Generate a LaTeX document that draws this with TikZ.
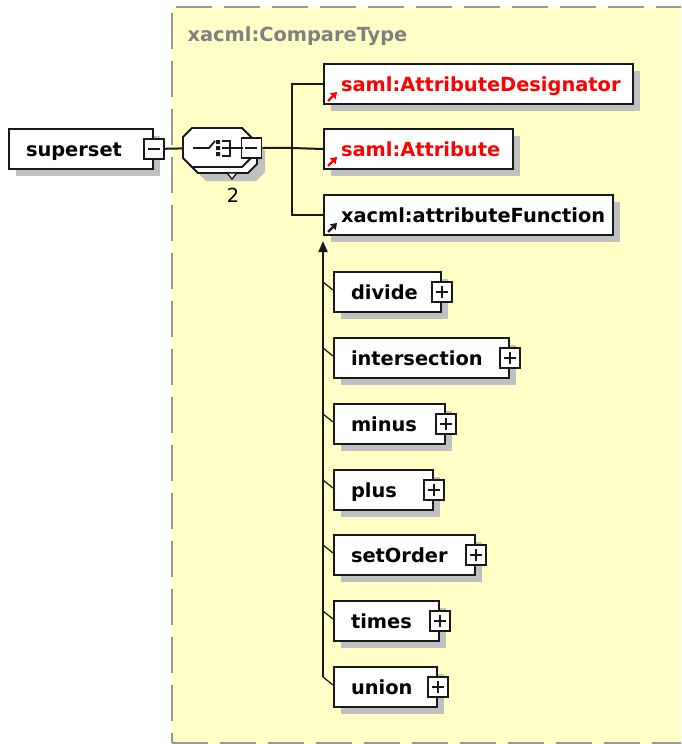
\documentclass[tikz,border=0pt]{standalone}
\usepackage{fontspec}
\setmainfont{DejaVu Sans}
\usetikzlibrary{arrows.meta}
\definecolor{schemaYellow}{RGB}{255,255,198}
\definecolor{borderGray}{RGB}{153,153,153}
\definecolor{shadowGray}{RGB}{192,192,192}
\definecolor{lineColor}{RGB}{25,25,25}
\definecolor{refRed}{RGB}{255,0,0}
\definecolor{typeGray}{RGB}{128,128,128}
\tikzstyle{schema} = [x = 1pt, y = -1pt, font=\bfseries\fontsize{19.4}{23}\selectfont]
\tikzstyle{elementStyle} = [draw=lineColor, fill=white, line width=2pt, minimum height=40pt, inner xsep=17pt, inner ysep=0pt, text height=14pt, text depth=0pt, align=left, anchor=north west]
\tikzstyle{shadowStyle} = [fill=shadowGray]
\tikzstyle{connector} = [draw=lineColor, line width=2pt]
\tikzstyle{tickLine} = [draw=lineColor, line width=1.2pt]
\tikzstyle{toggleStyle} = [draw=lineColor, fill=white, line width=1.8pt, minimum size=20pt, inner sep=0pt]
\tikzstyle{toggleSign} = [draw=lineColor, line width=1.8pt]
\tikzstyle{boxBorder} = [draw=borderGray, line width=2pt, dash pattern=on 36pt off 12pt]
\tikzstyle{compositorStyle} = [draw=lineColor, fill=white, line width=1.8pt]
\tikzstyle{refArrowStyle} = [line width=2.4pt, -{Triangle[length=6pt, width=8pt]}]
\newcommand{\elementBox}[5]{
  \fill [shadowStyle] (#2 + 8, #3 + 8) rectangle + (#4, 40);
  \pgfmathsetmacro{\labelWidth}{#4 - 34}
  \node [elementStyle, minimum width=#4, text width=\labelWidth pt] (#1) at (#2, #3) {#5};
}
\newcommand{\collapseToggle}[1]{
  \node [toggleStyle] (#1Toggle) at (#1.east) {};
  \draw [toggleSign] ([xshift=-6pt]#1Toggle.center) -- ([xshift=6pt]#1Toggle.center);
}
\newcommand{\expandToggle}[1]{
  \collapseToggle{#1}
  \draw [toggleSign] ([yshift=-6pt]#1Toggle.center) -- ([yshift=6pt]#1Toggle.center);
}
\newcommand{\refArrow}[2]{\draw [refArrowStyle, #2] ([shift={(5,-4)}]#1.south west) -- + (9,-9);}
\newcommand{\memberTick}[1]{\draw [tickLine] ([shift={(-10,11)}]#1.north west) -- ([shift={(0,19)}]#1.north west);}
\newcommand{\octagon}[5]{\filldraw [#5] (#1 + 9, #2) -- (#1 + #3 - 9, #2) -- (#1 + #3, #2 + 9) -- (#1 + #3, #2 + #4 - 9) -- (#1 + #3 - 9, #2 + #4) -- (#1 + 9, #2 + #4) -- (#1, #2 + #4 - 9) -- (#1, #2 + 9) -- cycle;}
\begin{document}
\begin{tikzpicture}[schema]
\useasboundingbox (0,0) rectangle (681,744);
% complex type frame
\fill [schemaYellow] (172,7) rectangle (681,744);
\draw [boxBorder, dash phase=44pt] (172,7) -- (681,7);
\draw [boxBorder, dash phase=42pt] (172,7) -- (172,743);
\draw [boxBorder] (172,743) -- (681,743);
\node [anchor=base west, text=typeGray] (typeName) at (184,41) {xacml:CompareType};
% root element
\elementBox{superset}{8}{128}{144}{superset}
\collapseToggle{superset}
% choice
\octagon{197}{142}{68}{39}{shadowStyle, draw=none}
\octagon{189}{134}{68}{39}{compositorStyle}
\octagon{183}{128}{68}{39}{compositorStyle}
\node [minimum width=68, minimum height=39, inner sep=0pt, anchor=north west] (choice) at (183,128) {};
\collapseToggle{choice}
\draw [toggleSign] (193,148) -- (209,148) -- (215,141);
\fill [lineColor] (216,140) rectangle + (4,4) (216,146) rectangle + (4,4) (216,152) rectangle + (4,4);
\draw [toggleSign] (222,141) -- (230,141) -- (230,156) -- (222,156) (222,148) -- (243,148);
\filldraw [compositorStyle, line width=1.4pt] (227,173) -- (237,173) -- (232,179) -- cycle;
\node [font=\mdseries\fontsize{19.4}{23}\selectfont] (choiceCount) at (233,195) {2};
\draw [connector] (supersetToggle) -- (choice);
\coordinate (branch) at (292,148);
\draw [connector] (choiceToggle) -- (branch);
% referenced elements
\elementBox{designator}{323}{63}{309}{\color{refRed}saml:AttributeDesignator}
\refArrow{designator}{refRed}
\elementBox{attribute}{323}{128}{189}{\color{refRed}saml:Attribute}
\refArrow{attribute}{refRed}
\elementBox{function}{323}{194}{289}{xacml:attributeFunction}
\refArrow{function}{lineColor}
\draw [connector] (designator.west) -| (branch) |- (function.west);
\draw [connector] (branch) -- (attribute.west);
% substitution group
\coordinate (trunkEnd) at (323,677);
\draw [connector, -{Triangle[length=11pt, width=9pt]}] (trunkEnd) -- ([shift={(0,5)}]function.south west);
\foreach \memberName/\memberTop/\memberWidth in {divide/271/107, intersection/337/175, minus/403/111, plus/469/99, setOrder/534/141, times/600/105, union/666/103} {
  \elementBox{\memberName}{333}{\memberTop}{\memberWidth}{\memberName}
  \expandToggle{\memberName}
  \memberTick{\memberName}
}
\end{tikzpicture}
\end{document}
